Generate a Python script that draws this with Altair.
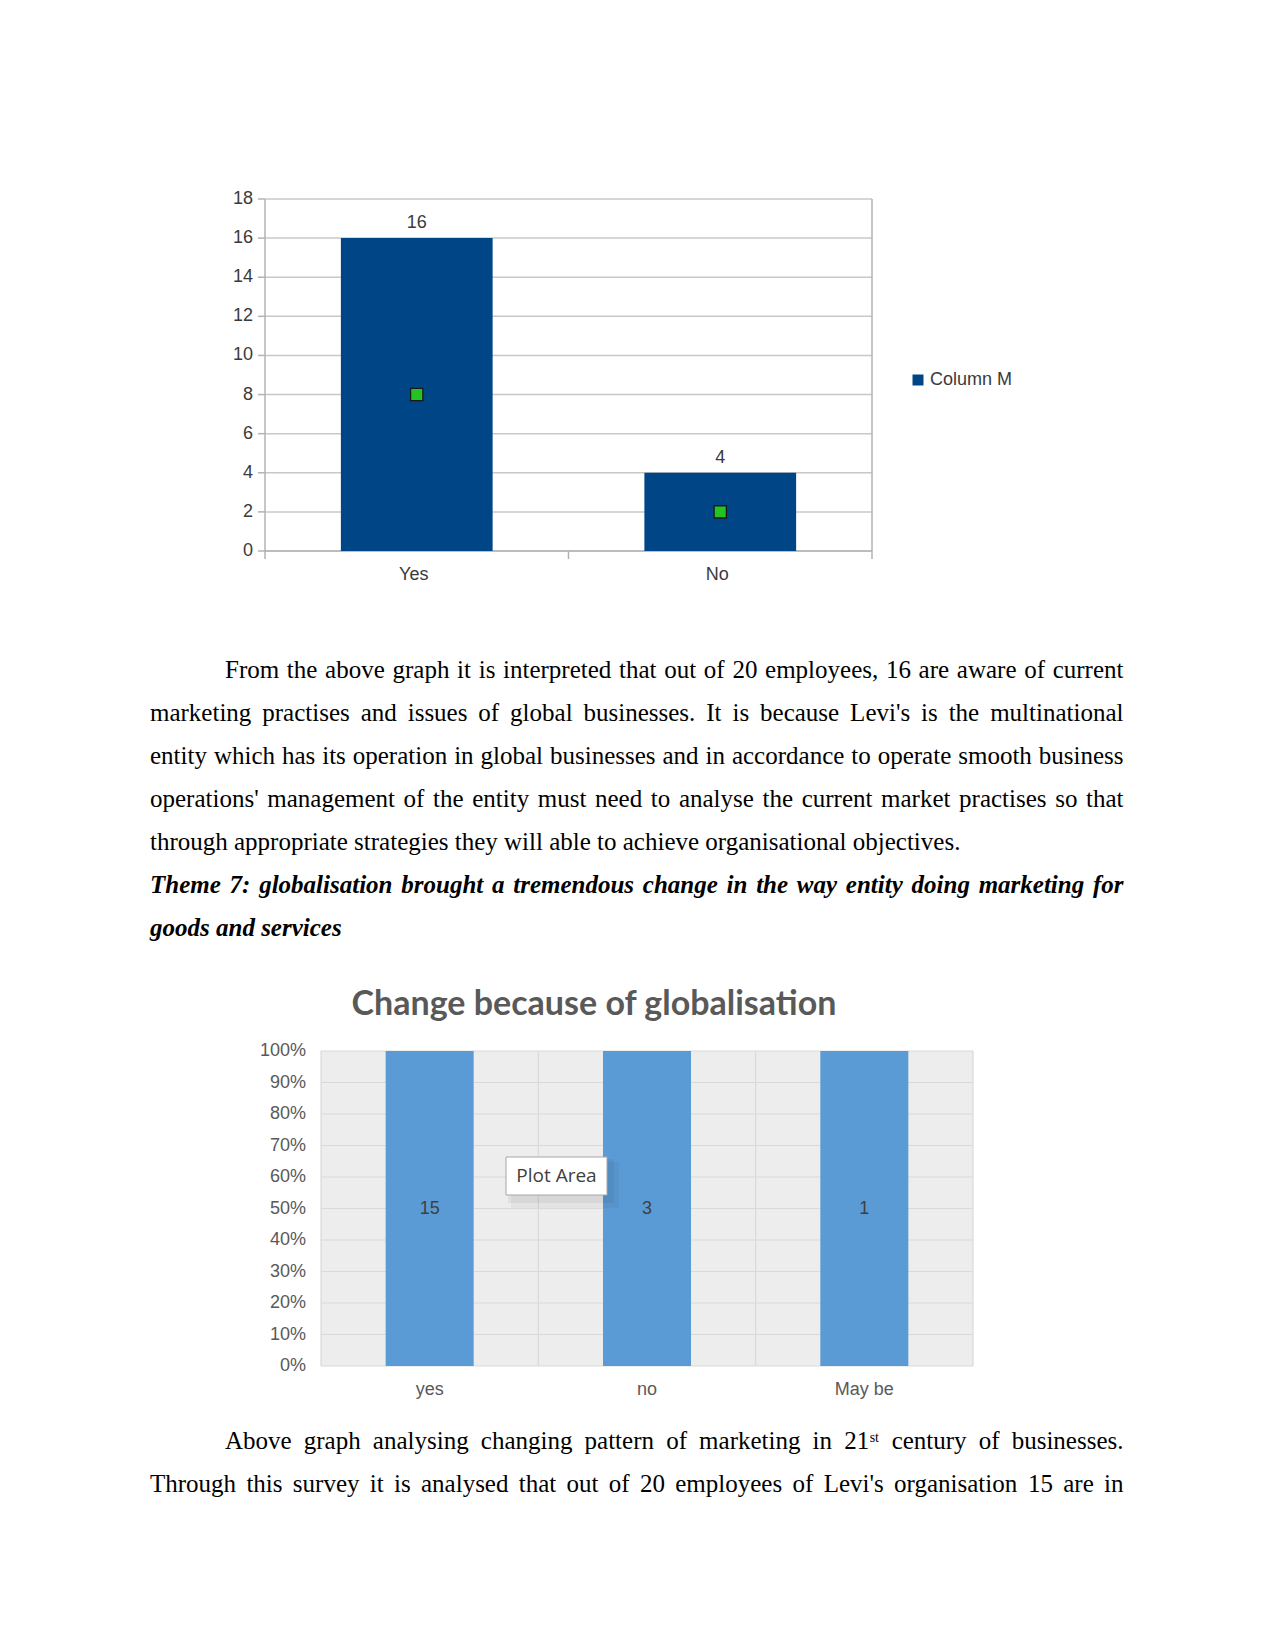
import altair as alt
import pandas as pd

PAGE_W, PAGE_H = 1275, 1650

# ---------------- Chart 1 data ----------------
c1_categories = ["Yes", "No"]
c1_values = [16, 4]
c1_markers = [8, 2]
c1_series = "Column M"
c1_ticks = [0, 2, 4, 6, 8, 10, 12, 14, 16, 18]

# ---------------- Chart 2 data ----------------
c2_title = "Change because of globalisation"
c2_categories = ["yes", "no", "May be"]
c2_values = [15, 3, 1]
c2_ticks = [0.0, 0.1, 0.2, 0.3, 0.4, 0.5, 0.6, 0.7, 0.8, 0.9, 1.0]
c2_hint = "Plot Area"

# ---------------- Page text ----------------
para1 = [
    "From the above graph it is interpreted that out of 20 employees, 16 are aware of current",
    "marketing practises and issues of global businesses. It is because Levi's is the multinational",
    "entity which has its operation in global businesses and in accordance to operate smooth business",
    "operations' management of the entity must need to analyse the current market practises so that",
    "through appropriate strategies they will able to achieve organisational objectives.",
]
theme = [
    "Theme 7: globalisation brought a tremendous change in the way entity doing marketing for",
    "goods and services",
]
para3_first = ["Above graph analysing changing pattern of marketing in 21", "st", "century of businesses."]
para3_second = "Through this survey it is analysed that out of 20 employees of Levi's organisation 15 are in"

# ---------------- text layout helpers (Times metrics) ----------------
def _table(groups, default):
    t = {}
    for w, chars in groups:
        for ch in chars:
            t[ch] = w
    return t, default

REG = _table([
    (0.5, "bdghknopquvxy0123456789"), (0.444, "acez"), (0.333, "frI()-"),
    (0.278, "ijlt:;/"), (0.389, "sJ"), (0.722, "wADGHKNOQUVXY"), (0.778, "m&"),
    (0.667, "BCR"), (0.611, "ELTZ"), (0.556, "FPS"), (0.889, "M"), (0.944, "W"),
    (0.25, " ,."), (0.18, "'"),
], 0.5)
BI = _table([
    (0.5, "abdgkopqx0123456789"), (0.444, "cevy"), (0.556, "hnu"), (0.278, "ijlt"),
    (0.389, "rsz"), (0.333, "f:"), (0.778, "m"), (0.667, "w"), (0.611, "T"), (0.25, " ,."),
], 0.6)


def tw(s, table, size):
    t, d = table
    return sum(t.get(ch, d) for ch in s) * size


SIZE = 25
LEFT, INDENT, RIGHT = 150, 225, 1123.5
BASE1 = 678
STEP = 43


def justify(words, widths, x0, x1):
    gap = (x1 - x0 - sum(widths)) / (len(words) - 1)
    xs, x = [], x0
    for w in widths:
        xs.append(x)
        x += w + gap
    return xs


rows_reg, rows_bi, rows_sup = [], [], []

for i, line in enumerate(para1):
    y = BASE1 + i * STEP
    x0 = INDENT if i == 0 else LEFT
    if i == len(para1) - 1:
        rows_reg.append({"t": line, "px": x0, "py": y})
    else:
        words = line.split(" ")
        widths = [tw(w, REG, SIZE) for w in words]
        for w, x in zip(words, justify(words, widths, x0, RIGHT)):
            rows_reg.append({"t": w, "px": x, "py": y})

y = BASE1 + 5 * STEP
words = theme[0].split(" ")
widths = [tw(w, BI, SIZE) for w in words]
for w, x in zip(words, justify(words, widths, LEFT, RIGHT)):
    rows_bi.append({"t": w, "px": x, "py": y})
rows_bi.append({"t": theme[1], "px": LEFT, "py": BASE1 + 6 * STEP})

P3 = 1448.5
SUP = 14
w_first = para3_first[0].split(" ")
w_last = para3_first[2].split(" ")
words = w_first + w_last
widths = [tw(w, REG, SIZE) for w in words]
k = len(w_first) - 1
widths[k] += tw(para3_first[1], REG, SUP) + 1
xs = justify(words, widths, INDENT, RIGHT)
for w, x in zip(words, xs):
    rows_reg.append({"t": w, "px": x, "py": P3})
rows_sup.append({"t": para3_first[1], "px": xs[k] + tw(w_first[-1], REG, SIZE) + 0.5, "py": P3 - 7})

words = para3_second.split(" ")
widths = [tw(w, REG, SIZE) for w in words]
for w, x in zip(words, justify(words, widths, LEFT, RIGHT)):
    rows_reg.append({"t": w, "px": x, "py": P3 + STEP})


def text_layer(rows, **style):
    return alt.Chart(pd.DataFrame(rows)).mark_text(
        align="left", baseline="alphabetic", color="black", font="Liberation Serif", **style
    ).encode(
        x=alt.X("px:Q", scale=None, axis=None),
        y=alt.Y("py:Q", scale=None, axis=None),
        text="t:N",
    )


txt_reg = text_layer(rows_reg, fontSize=SIZE)
txt_bi = text_layer(rows_bi, fontSize=SIZE, fontWeight="bold", fontStyle="italic")
txt_sup = text_layer(rows_sup, fontSize=SUP)

one = pd.DataFrame({"k": [0]})

# ---------------- Chart 1 ----------------
SANS = "Liberation Sans"
AX1 = "#b3b3b3"
GRID1 = "#c8c8c8"
LBL1 = "#3a3a3a"
X1L, X1R, Y1B, Y1T = 265, 872, 551, 199

df1 = pd.DataFrame({
    "cat": c1_categories,
    "value": c1_values,
    "marker": c1_markers,
    "series": [c1_series] * len(c1_categories),
})
ticks1 = pd.DataFrame({"tick": c1_ticks})
x1_scale = alt.Scale(domain=c1_categories, range=[X1L, X1R], paddingInner=0.5, paddingOuter=0.25)
y1_scale = alt.Scale(domain=[0, 18], range=[Y1B, Y1T], nice=False)
X1 = alt.X("cat:N", scale=x1_scale, sort=None, axis=None)

grid1 = alt.Chart(ticks1).mark_rule(color=GRID1, strokeWidth=1.5).encode(
    y=alt.Y("tick:Q", scale=y1_scale, axis=None), x=alt.value(X1L), x2=alt.value(X1R))
yt1 = alt.Chart(ticks1).mark_rule(color=AX1, strokeWidth=1.5).encode(
    y=alt.Y("tick:Q", scale=y1_scale, axis=None), x=alt.value(X1L - 7), x2=alt.value(X1L))
yl1 = alt.Chart(ticks1).mark_text(align="right", baseline="middle", font=SANS, fontSize=18, color=LBL1).encode(
    y=alt.Y("tick:Q", scale=y1_scale, axis=None), x=alt.value(X1L - 12), text="tick:Q")
frame1_left = alt.Chart(one).mark_rule(color=AX1, strokeWidth=1.5).encode(
    x=alt.value(X1L), y=alt.value(Y1T), y2=alt.value(Y1B))
frame1_right = alt.Chart(one).mark_rule(color=AX1, strokeWidth=1.5).encode(
    x=alt.value(X1R), y=alt.value(Y1T), y2=alt.value(Y1B))
frame1_bottom = alt.Chart(one).mark_rule(color=AX1, strokeWidth=1.5).encode(
    y=alt.value(Y1B), x=alt.value(X1L), x2=alt.value(X1R))

base1 = alt.Chart(df1)
bars1 = base1.mark_bar().encode(
    x=X1,
    y=alt.Y("value:Q", scale=y1_scale, axis=None),
    color=alt.Color("series:N", scale=alt.Scale(domain=[c1_series], range=["#004586"]),
                    legend=alt.Legend(orient="none", legendX=909, legendY=371, title=None,
                                      symbolType="square", symbolSize=121, symbolStrokeWidth=0,
                                      labelFont=SANS, labelFontSize=18, labelColor=LBL1,
                                      labelOffset=3, padding=0)),
)
labels1 = base1.mark_text(dy=-15, baseline="middle", font=SANS, fontSize=18, color=LBL1).encode(
    x=X1, y=alt.Y("value:Q", scale=y1_scale, axis=None), text="value:Q")
markers1 = base1.mark_square(size=150, fill="#22c322", stroke="#1a1a1a", strokeWidth=1.3, opacity=1).encode(
    x=X1, y=alt.Y("marker:Q", scale=y1_scale, axis=None))
xl1 = base1.mark_text(baseline="middle", dx=-3, font=SANS, fontSize=18, color=LBL1).encode(
    x=X1, y=alt.value(575), text="cat:N")

chart1 = alt.layer(grid1, frame1_left, frame1_right, frame1_bottom, yt1, yl1,
                   bars1, labels1, markers1, xl1)

# category boundary ticks (bottom axis of chart 1)
bounds1 = pd.DataFrame({"b": list(range(len(c1_categories) + 1))})
xt1 = alt.Chart(bounds1).mark_rule(color=AX1, strokeWidth=1.5).encode(
    x=alt.X("b:Q", scale=alt.Scale(domain=[0, len(c1_categories)], range=[X1L, X1R]), axis=None),
    y=alt.value(Y1B), y2=alt.value(Y1B + 8))

# ---------------- Chart 2 ----------------
GRID2 = "#d9d9d9"
LBL2 = "#595959"
X2L, X2R, Y2B, Y2T = 321, 973, 1366, 1051
df2 = pd.DataFrame({"cat": c2_categories, "value": c2_values})
ticks2 = pd.DataFrame({"tick": c2_ticks})
x2_scale = alt.Scale(domain=c2_categories, range=[X2L, X2R], paddingInner=0.595, paddingOuter=0.2975)
y2_scale = alt.Scale(domain=[0, 1], range=[Y2B, Y2T], nice=False)
X2 = alt.X("cat:N", scale=x2_scale, sort=None, axis=None)

bg2 = alt.Chart(one).mark_rect(color="#ededed").encode(
    x=alt.value(X2L), x2=alt.value(X2R), y=alt.value(Y2T), y2=alt.value(Y2B))
bounds2 = pd.DataFrame({"b": list(range(len(c2_categories) + 1))})
vgrid2 = alt.Chart(bounds2).mark_rule(color=GRID2, strokeWidth=1.2).encode(
    x=alt.X("b:Q", scale=alt.Scale(domain=[0, len(c2_categories)], range=[X2L, X2R]), axis=None),
    y=alt.value(Y2T), y2=alt.value(Y2B))

hgrid2 = alt.Chart(ticks2).mark_rule(color=GRID2, strokeWidth=1.2).encode(
    y=alt.Y("tick:Q", scale=y2_scale, axis=None), x=alt.value(X2L), x2=alt.value(X2R))
yl2 = alt.Chart(ticks2).mark_text(align="right", baseline="middle", font=SANS, fontSize=18, color=LBL2).encode(
    y=alt.Y("tick:Q", scale=y2_scale, axis=None), x=alt.value(X2L - 15),
    text=alt.Text("tick:Q", format=".0%"))

base2 = alt.Chart(df2)
bars2 = base2.mark_bar(color="#5b9bd5").encode(
    x=X2, y=alt.Y("value:Q", stack="normalize", scale=y2_scale, axis=None))
labels2 = base2.transform_joinaggregate(total="sum(value)", groupby=["cat"]).transform_calculate(
    mid="datum.value / datum.total / 2"
).mark_text(baseline="middle", font=SANS, fontSize=18, color="#404040").encode(
    x=X2, y=alt.Y("mid:Q", scale=y2_scale, axis=None), text="value:Q")
xl2 = base2.mark_text(baseline="middle", font=SANS, fontSize=18, color=LBL2).encode(
    x=X2, y=alt.value(1390), text="cat:N")

chart2 = alt.layer(hgrid2, yl2, bars2, labels2, xl2)

title2 = alt.Chart(pd.DataFrame({"t": [c2_title]})).mark_text(
    font="Lato", fontWeight="bold", fontSize=34, color="#595959", align="center", baseline="alphabetic"
).encode(text="t:N", x=alt.value(594), y=alt.value(1015))

hint = pd.DataFrame({"t": [c2_hint]})
shadow_a = alt.Chart(hint).mark_rect(color="black", opacity=0.05).encode(
    x=alt.value(508), x2=alt.value(614), y=alt.value(1159), y2=alt.value(1203))
shadow_b = alt.Chart(hint).mark_rect(color="black", opacity=0.04).encode(
    x=alt.value(511), x2=alt.value(619), y=alt.value(1162), y2=alt.value(1208))
tip_box = alt.Chart(hint).mark_rect(fill="white", stroke="#a6a6a6", strokeWidth=1).encode(
    x=alt.value(506), x2=alt.value(607), y=alt.value(1157), y2=alt.value(1195))
tip_text = alt.Chart(hint).mark_text(
    font="Open Sans", fontSize=19, color="#404040", align="center", baseline="middle"
).encode(text="t:N", x=alt.value(556.5), y=alt.value(1176))

page = alt.layer(
    chart1, xt1, bg2, vgrid2, chart2, title2, shadow_b, shadow_a, tip_box, tip_text,
    txt_reg, txt_bi, txt_sup
).resolve_scale(
    x="independent", y="independent"
).properties(
    width=PAGE_W, height=PAGE_H, padding=0, autosize=alt.AutoSizeParams(type="none")
).configure(background="white").configure_view(stroke=None)

page.save("out.html", embed_options={"renderer": "svg", "actions": False})
